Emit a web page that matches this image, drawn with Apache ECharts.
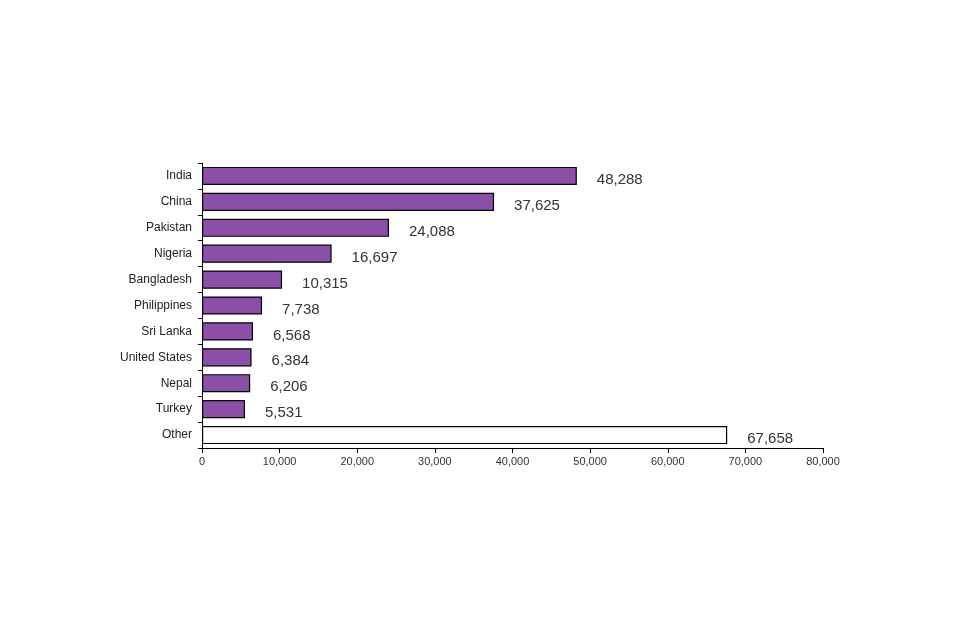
<!DOCTYPE html><html><head><meta charset="utf-8"><script src="https://cdn.jsdelivr.net/npm/echarts@6/dist/echarts.min.js"></script></head><body style="margin:0"><div id="c" style="width:960px;height:640px"></div><script>
const categories=["India","China","Pakistan","Nigeria","Bangladesh","Philippines","Sri Lanka","United States","Nepal","Turkey","Other"];
const values=[48288,37625,24088,16697,10315,7738,6568,6384,6206,5531,67658];
const chart=echarts.init(document.getElementById('c'));
chart.setOption({animation:false,
grid:{left:202,right:137,top:163,bottom:192},
xAxis:{type:'value',min:0,max:80000,interval:10000,splitLine:{show:false},
axisLine:{show:true,lineStyle:{color:'#000'}},axisTick:{show:true,length:5,lineStyle:{color:'#000'}},
axisLabel:{color:'#333',fontSize:11,fontFamily:'Arial, Liberation Sans',formatter:v=>v.toLocaleString('en-US')}},
yAxis:{type:'category',inverse:true,data:categories,
axisLine:{lineStyle:{color:'#000'}},axisTick:{show:true,length:4,lineStyle:{color:'#000'}},
axisLabel:{color:'#222',fontSize:12,fontFamily:'Arial, Liberation Sans',margin:10}},
series:[{type:'bar',barCategoryGap:'30%',
data:values.map((v,i)=>({value:v,itemStyle:{color:i===values.length-1?'#fff':'#8C4FA8'}})),
itemStyle:{borderColor:'#000',borderWidth:1.2},
label:{show:true,position:'right',distance:20,offset:[0,4],fontSize:15,color:'#333',fontFamily:'Arial, Liberation Sans',formatter:p=>p.value.toLocaleString('en-US')}}]});
</script></body></html>
